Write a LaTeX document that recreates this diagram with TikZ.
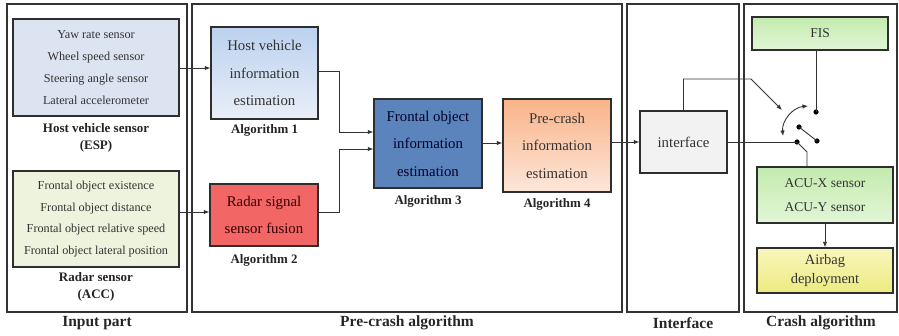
\documentclass[tikz,border=0pt]{standalone}
\usepackage{fontspec}
\setmainfont{Liberation Serif}
\usetikzlibrary{arrows.meta,calc}

\definecolor{linec}{HTML}{333333}
\definecolor{txtc}{HTML}{333333}
\definecolor{espfill}{HTML}{DCE4F1}
\definecolor{radfill}{HTML}{EEF3DE}
\definecolor{aoneT}{HTML}{BCD1EE}
\definecolor{aoneB}{HTML}{E9EFF9}
\definecolor{atwo}{HTML}{F26666}
\definecolor{athree}{HTML}{5B84BD}
\definecolor{afourT}{HTML}{F9B389}
\definecolor{afourB}{HTML}{FDE7DA}
\definecolor{intfill}{HTML}{F2F2F2}
\definecolor{greenT}{HTML}{C3EBAE}
\definecolor{greenB}{HTML}{E2F6D6}
\definecolor{yelT}{HTML}{F8F6BC}
\definecolor{yelB}{HTML}{EDEB80}

\tikzset{
  panel/.style={draw=linec, line width=1.1pt, inner sep=0pt},
  box/.style={draw=linec!90!black, line width=1.3pt, inner sep=0pt, align=center, text=txtc},
  sensortext/.style={font=\fontsize{12.2}{21.8}\selectfont},
  algtext/.style={font=\fontsize{14.8}{27.5}\selectfont},
  caption/.style={font=\bfseries\fontsize{13}{17}\selectfont, align=center, text=txtc!70!black},
  algcap/.style={font=\bfseries\fontsize{12.9}{15}\selectfont, text=txtc!70!black},
  partcap/.style={font=\bfseries\fontsize{15.5}{18}\selectfont, text=black!85},
  conn/.style={draw=linec, line width=0.9pt},
  ar/.style={conn, -{Latex[length=5.5pt,width=4.5pt]}},
  dot/.style={circle, fill=black, inner sep=0pt, minimum size=5.2pt},
}

\begin{document}
\begin{tikzpicture}[x=1pt,y=-1pt]
\useasboundingbox (0,0) rectangle (899,336);

% section frames
\node[panel, minimum width=180pt, minimum height=308pt] (pin) at (97,158) {};
\node[panel, minimum width=430pt, minimum height=308pt] (ppre) at (407,158) {};
\node[panel, minimum width=112pt, minimum height=308pt] (pint) at (683,158) {};
\node[panel, minimum width=153pt, minimum height=308pt] (pcr) at (820.5,158) {};

\node[partcap] (lin) at (97,323) {Input part};
\node[partcap] (lpre) at (407,323) {Pre-crash algorithm};
\node[partcap] (lint) at (683,323) {Interface};
\node[partcap] (lcr) at (821,323) {Crash algorithm};

% input sensors
\node[box, sensortext, fill=espfill, minimum width=166pt, minimum height=97pt] (esp) at (96,67.5)
  {Yaw rate sensor\\Wheel speed sensor\\Steering angle sensor\\Lateral accelerometer};
\node[caption] (espcap) at (96,137.5) {Host vehicle sensor\\(ESP)};

\node[box, sensortext, fill=radfill, minimum width=166pt, minimum height=96pt] (radar) at (96,219)
  {Frontal object existence\\Frontal object distance\\Frontal object relative speed\\Frontal object lateral position};
\node[caption] (radcap) at (96,287) {Radar sensor\\(ACC)};

% pre-crash algorithms
\node[box, algtext, top color=aoneT, bottom color=aoneB, minimum width=107pt, minimum height=92pt] (alg1) at (264.5,73)
  {Host vehicle\\information\\estimation};
\node[algcap] (cap1) at (264.5,130) {Algorithm 1};

\node[box, algtext, fill=atwo, text=black!80!red, minimum width=108pt, minimum height=62pt] (alg2) at (264,215)
  {Radar signal\\sensor fusion};
\node[algcap] (cap2) at (264,260) {Algorithm 2};

\node[box, algtext, fill=athree, text=black!85!blue, minimum width=108pt, minimum height=89pt] (alg3) at (428,143.5)
  {Frontal object\\information\\estimation};
\node[algcap] (cap3) at (428,201) {Algorithm 3};

\node[box, algtext, top color=afourT, bottom color=afourB, minimum width=108pt, minimum height=93pt] (alg4) at (557,145.5)
  {Pre-crash\\information\\estimation};
\node[algcap] (cap4) at (557,204) {Algorithm 4};

% interface
\node[box, algtext, fill=intfill, minimum width=87pt, minimum height=62pt] (intf) at (683.5,142) {interface};

% crash algorithm
\node[box, font=\fontsize{13.5}{17}\selectfont, top color=greenT, bottom color=greenB, minimum width=136pt, minimum height=33pt] (fis) at (820,33.5) {FIS};
\node[box, font=\fontsize{13.5}{24}\selectfont, top color=greenT, bottom color=greenB, minimum width=136pt, minimum height=56pt] (acu) at (825,195)
  {ACU-X sensor\\ACU-Y sensor};
\node[box, font=\fontsize{14.5}{19}\selectfont, top color=yelT, bottom color=yelB, minimum width=136pt, minimum height=45pt] (airbag) at (825,270.5)
  {Airbag\\deployment};

% switch contacts
\node[dot] (swin) at (797,142) {};
\node[dot] (swa) at (799,127) {};
\node[dot] (swb) at (817,141) {};
\node[dot] (swfis) at (816,112) {};
\coordinate (seltip) at (782,110);
\coordinate (arcl) at (783,136);
\coordinate (arcu) at (808,106);

% connectors
\draw[ar] (esp.east |- 0,68) -- (alg1.west |- 0,68);
\draw[ar] (radar.east |- 0,212) -- (alg2.west |- 0,212);
\draw[ar] (alg1.east |- 0,71) -- (339,71) |- (alg3.west |- 0,132);
\draw[ar] (alg2.east |- 0,212) -- (339,212) |- (alg3.west |- 0,149);
\draw[ar] (alg3.east |- 0,143) -- (alg4.west |- 0,143);
\draw[ar] (alg4.east |- 0,142) -- (intf.west |- 0,142);
\draw[ar] (intf.north) -- (683.5,79) -- (751,79) -- (seltip);
\draw[conn] (intf.east) -- (swin.center);
\draw[conn] (swin.center) -- (807,152) -- (acu.north -| 807,0);
\draw[conn] (fis.south -| swfis) -- (swfis.center);
\draw[conn] (swa.center) -- (swb.center);
\draw[conn, {Latex[length=5.5pt,width=4.5pt]}-{Latex[length=5.5pt,width=4.5pt]}] (arcl) to[bend left=45] (arcu);
\draw[ar] (acu.south) -- (airbag.north);
\end{tikzpicture}
\end{document}
